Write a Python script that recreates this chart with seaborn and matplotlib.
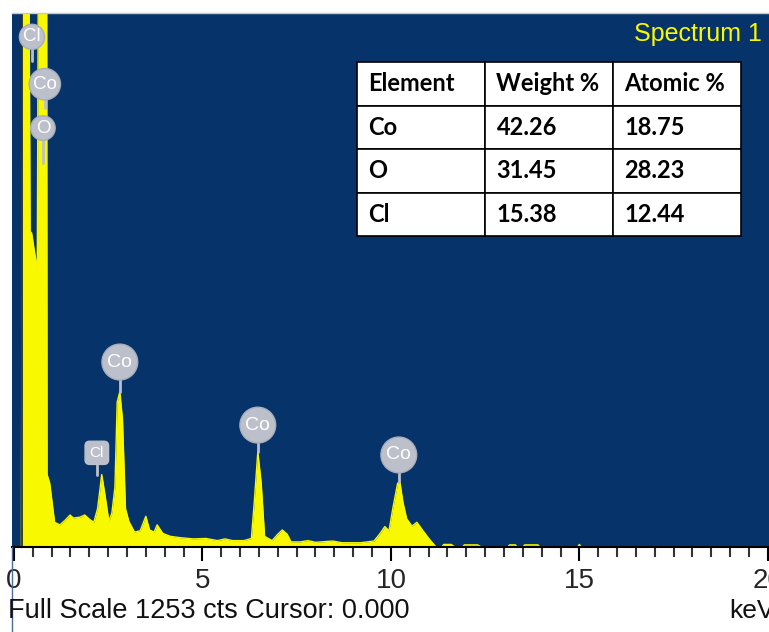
import pandas as pd
import seaborn as sns
import matplotlib.pyplot as plt
from matplotlib.ticker import MultipleLocator
from matplotlib.lines import Line2D

# spectrum (keV, counts)
energy = [0.00, 0.20, 0.23, 0.40, 0.43, 0.47, 0.62, 0.65, 0.87, 0.88, 0.95, 1.08,
          1.22, 1.35, 1.49, 1.58, 1.75, 1.88, 2.02, 2.12, 2.22, 2.33, 2.42, 2.52,
          2.60, 2.68, 2.74, 2.81, 2.88, 2.96, 3.05, 3.20, 3.35, 3.50, 3.60, 3.72,
          3.80, 3.95, 4.15, 4.40, 4.75, 5.10, 5.40, 5.60, 5.80, 6.10, 6.30, 6.38,
          6.47, 6.56, 6.65, 6.85, 7.00, 7.12, 7.25, 7.35, 7.60, 7.80, 8.00, 8.46,
          8.70, 9.20, 9.55, 9.70, 9.84, 9.95, 10.05, 10.18, 10.24, 10.32, 10.42,
          10.56, 10.69, 10.82, 10.98, 11.10, 11.20, 11.35, 11.40, 11.60, 11.70,
          11.90, 11.95, 12.30, 12.40, 13.10, 13.15, 13.30, 13.35, 13.50, 13.55,
          13.90, 13.95, 14.95, 15.00, 15.05, 20.00]
counts = [0, 0, 1400, 1400, 740, 737, 650, 1400, 1400, 170, 150, 58,
          52, 62, 75, 68, 70, 75, 64, 58, 90, 170, 120, 60,
          80, 140, 340, 364, 300, 90, 60, 35, 38, 72, 40, 35,
          52, 32, 25, 22, 19, 20, 15, 19, 15, 15, 20, 110,
          223, 150, 25, 15, 30, 40, 30, 12, 12, 15, 11, 14,
          10, 10, 14, 30, 48, 38, 90, 150, 152, 105, 66,
          49, 58, 42, 23, 10, 0, 0, 6, 6, 0,
          0, 5, 5, 0, 0, 5, 5, 0, 0, 5,
          5, 0, 0, 6, 0, 0]

# peak labels: element, label position (keV, counts), stem end (counts)
label_text = ["Cl", "Co", "O", "Cl", "Co", "Co", "Co"]
label_energy = [0.48, 0.82, 0.77, 2.20, 2.81, 6.47, 10.21]
label_counts = [1197, 1086, 983, 221, 434, 286, 216]
stem_end = [1140, 1030, 900, 170, 364, 223, 152]

# quantification table
elements = ["Co", "O", "Cl"]
weight_pct = ["42.26", "31.45", "15.38"]
atomic_pct = ["18.75", "28.23", "12.44"]
header = ["Element", "Weight %", "Atomic %"]

navy = "#06336a"
yellow = "#f8f800"
badge = "#bcc0ca"

sns.set_theme(style="white")
plt.rcParams["font.family"] = ["Liberation Sans", "DejaVu Sans"]

fig = plt.figure(figsize=(7.69, 6.32), dpi=100)
ax = fig.add_axes([12 / 769, 85 / 632, 757 / 769, 534 / 632])
ax.set_facecolor(navy)

df = pd.DataFrame({"keV": energy, "cts": counts})
ax.fill_between(df["keV"], df["cts"], color=yellow, lw=0)
sns.lineplot(data=df, x="keV", y="cts", color=yellow, lw=1, ax=ax)
ax.axvline(0.22, color="#222222", lw=1.2)

ax.set_xlim(-0.05, 20.03)
ax.set_ylim(0, 1253)
ax.set_xlabel("")
ax.set_ylabel("")
ax.set_yticks([])

# element badges
for t, e, c, s in zip(label_text, label_energy, label_counts, stem_end):
    ax.plot([e, e], [s, c], color=badge, lw=2, zorder=3)
    if t == "Cl" and e > 1:
        ax.text(e, c, t, fontsize=11, color="white", ha="center", va="center",
                zorder=4, bbox=dict(boxstyle="round,pad=0.3", fc=badge, ec=badge))
    elif e < 1:
        ax.text(e, c, t, fontsize=13.5, color="white", ha="center", va="center",
                zorder=4, bbox=dict(boxstyle="circle,pad=0.2", fc=badge, ec="#a9aebb", lw=1))
    else:
        ax.text(e, c, t, fontsize=14, color="white", ha="center", va="center",
                zorder=4, bbox=dict(boxstyle="circle,pad=0.28", fc=badge, ec="#a9aebb", lw=1))

ax.text(0.9908, 0.9607, "Spectrum 1", transform=ax.transAxes, ha="right", va="center",
        color=yellow, fontsize=18)

rows = [[el, w, a] for el, w, a in zip(elements, weight_pct, atomic_pct)]
tbl = ax.table(cellText=rows, colLabels=header, cellLoc="left", colLoc="left",
               bbox=[0.4557, 0.5824, 0.5073, 0.3258])
tbl.auto_set_font_size(False)
for cell in tbl.get_celld().values():
    cell.set_facecolor("white")
    cell.set_edgecolor("black")
    cell.set_linewidth(1.2)
    cell.PAD = 0.09
    cell.get_text().set_fontsize(17)
    cell.get_text().set_fontweight("bold")
    cell.get_text().set_fontfamily("Lato")
    cell.get_text().set_color("black")

# axis look
for side in ["left", "right"]:
    ax.spines[side].set_visible(False)
ax.spines["top"].set_color("#c8c8c8")
ax.spines["top"].set_linewidth(1)
ax.spines["bottom"].set_color("black")
ax.spines["bottom"].set_linewidth(1.5)
ax.xaxis.set_major_locator(MultipleLocator(5))
ax.xaxis.set_minor_locator(MultipleLocator(0.5))
ax.tick_params(axis="x", which="major", direction="out", length=10, width=1.5,
               color="black", labelsize=20, pad=5, bottom=True)
ax.tick_params(axis="x", which="minor", direction="out", length=7, width=1.5,
               color="#333333", bottom=True)

fig.text(8 / 769, 1 - 611 / 632, "Full Scale 1253 cts Cursor: 0.000",
         fontsize=19.5, va="center", ha="left", color="#111111")
fig.text(729 / 769, 1 - 611 / 632, "keV", fontsize=19, va="center", ha="left",
         color="#111111")
fig.add_artist(Line2D([12 / 769, 12 / 769], [0, 85 / 632], color="#4a6aa0", lw=1))

fig.savefig("out.png", dpi=100)
